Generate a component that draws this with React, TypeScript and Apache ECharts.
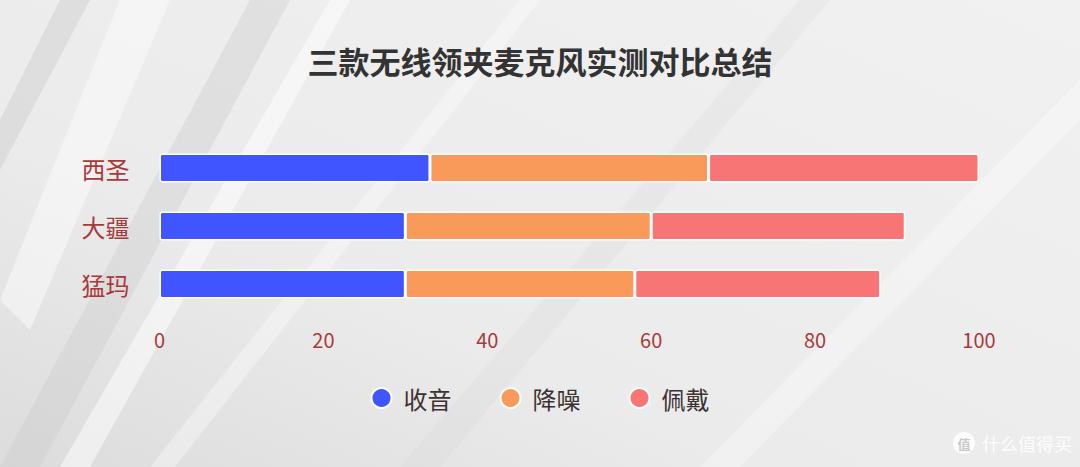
import React, { useEffect, useRef } from "react";
import * as echarts from "echarts";

const categories = ["猛玛", "大疆", "西圣"];
const seriesNames = ["收音", "降噪", "佩戴"];
const pickup = [30, 30, 33];
const noiseReduction = [28, 30, 34];
const wearing = [30, 31, 33];
const colors = ["#4055FF", "#F99A5B", "#F87575"];
const titleText = "三款无线领夹麦克风实测对比总结";

const FONT = "'Noto Sans CJK SC', 'Noto Sans', sans-serif";

export default function App() {
  const ref = useRef<HTMLDivElement>(null);
  useEffect(() => {
    document.body.style.margin = "0";
    const chart = echarts.init(ref.current!, null, { renderer: "svg" });
    const streak = (pts: number[][], fill: string) => ({
      type: "polygon",
      silent: true,
      z: -10,
      shape: { points: pts },
      style: { fill },
    });
    chart.setOption({
      animation: false,
      backgroundColor: {
        type: "linear",
        x: 0, y: 1, x2: 1, y2: 0,
        colorStops: [
          { offset: 0, color: "#dcdcdc" },
          { offset: 0.35, color: "#ebebeb" },
          { offset: 1, color: "#f1f1f1" },
        ],
      },
      graphic: [
        streak([[0, 300], [120, 0], [170, 0], [30, 330]], "rgba(255,255,255,0.45)"),
        streak([[0, 467], [250, 0], [290, 0], [40, 467]], "rgba(200,200,200,0.35)"),
        streak([[60, 467], [330, 0], [350, 0], [90, 467]], "rgba(255,255,255,0.5)"),
        streak([[0, 120], [60, 0], [90, 0], [0, 170]], "rgba(190,190,190,0.3)"),
        streak([[150, 467], [520, 0], [540, 0], [175, 467]], "rgba(255,255,255,0.35)"),
        streak([[400, 467], [800, 0], [830, 0], [440, 467]], "rgba(210,210,210,0.2)"),
        streak([[700, 467], [1080, 80], [1080, 120], [740, 467]], "rgba(255,255,255,0.3)"),
        {
          type: "circle",
          silent: true,
          shape: { cx: 964, cy: 443, r: 11 },
          style: { fill: "rgba(255,255,255,0.85)" },
        },
        {
          type: "text",
          silent: true,
          x: 964,
          y: 443,
          style: {
            text: "值",
            fill: "#c8c8c8",
            font: `bold 13px ${FONT}`,
            align: "center",
            verticalAlign: "middle",
          },
        },
        {
          type: "text",
          silent: true,
          x: 982,
          y: 443,
          style: {
            text: "什么值得买",
            fill: "rgba(255,255,255,0.9)",
            font: `18px ${FONT}`,
            align: "left",
            verticalAlign: "middle",
          },
        },
      ],
      title: {
        text: titleText,
        left: "center",
        top: 40,
        textStyle: { fontSize: 31, fontWeight: "bold", color: "#333333", fontFamily: FONT },
      },
      legend: {
        top: 381,
        left: "center",
        icon: "circle",
        itemWidth: 20,
        itemHeight: 20,
        itemGap: 48,
        data: seriesNames,
        textStyle: {
          fontSize: 24,
          color: "#3d3232",
          fontFamily: FONT,
          padding: [0, 0, 0, 7],
        },
      },
      grid: { left: 159.5, right: 101, top: 139, bottom: 154 },
      xAxis: {
        type: "value",
        min: 0,
        max: 100,
        interval: 20,
        axisLine: { show: false },
        axisTick: { show: false },
        splitLine: { show: false },
        axisLabel: { color: "#a83a3a", fontSize: 20, margin: 16, fontFamily: FONT },
      },
      yAxis: {
        type: "category",
        data: categories,
        axisLine: { show: false },
        axisTick: { show: false },
        axisLabel: { color: "#a83a3a", fontSize: 24, margin: 30, fontFamily: FONT },
      },
      series: [pickup, noiseReduction, wearing].map((d, i) => ({
        name: seriesNames[i],
        type: "bar",
        stack: "total",
        barWidth: 29,
        data: d,
        itemStyle: {
          color: colors[i],
          borderColor: "#ffffff",
          borderWidth: 1.5,
          borderRadius: 2,
        },
      })),
    });
    return () => chart.dispose();
  }, []);
  return <div ref={ref} style={{ width: 1080, height: 467 }} />;
}
